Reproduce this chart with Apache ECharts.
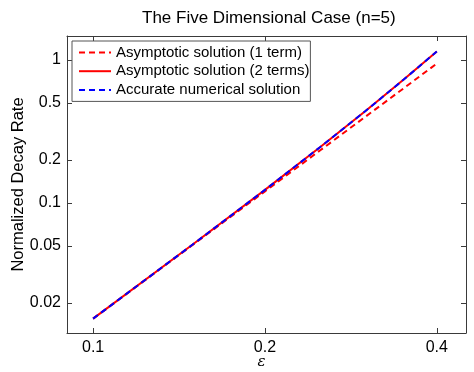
<!DOCTYPE html>
<html>
<head>
<meta charset="utf-8">
<script src="https://cdn.jsdelivr.net/npm/echarts@6/dist/echarts.min.js"></script>
<style>
html,body{margin:0;padding:0;background:#fff;}
#chart{width:474px;height:372px;}
</style>
</head>
<body>
<div id="chart"></div>
<script>
// ---- data ----
const epsilon = [0.1, 0.15, 0.2, 0.25, 0.3, 0.35, 0.4];
const asymptotic1 = [0.0155, 0.0514, 0.1203, 0.233, 0.400, 0.632, 0.941];
const asymptotic2 = [0.0155, 0.0517, 0.1232, 0.2456, 0.438, 0.727, 1.144];
const numerical   = [0.0155, 0.0517, 0.1232, 0.2456, 0.438, 0.727, 1.144];
const xTickLabels = [0.1, 0.2, 0.4];
const yTickLabels = [0.02, 0.05, 0.1, 0.2, 0.5, 1];
const seriesNames = ['Asymptotic solution (1 term)', 'Asymptotic solution (2 terms)', 'Accurate numerical solution'];

const xMin = 0.09, xMax = 0.45;
const yMin = 0.0123, yMax = 1.466;

const FONT = 'Liberation Sans';
const axisColor = '#3a3a3a';

function pairs(xs, ys) { return xs.map((x, i) => [x, ys[i]]); }
function fmt(v) { return String(Number(Math.pow(10, v).toPrecision(3))); }

const chart = echarts.init(document.getElementById('chart'));
const tickCommon = { show: true, inside: true, length: 5, lineStyle: { color: axisColor, width: 1 } };
const lineCommon = { show: true, onZero: false, lineStyle: { color: axisColor, width: 1 } };

chart.setOption({
  animation: false,
  backgroundColor: '#fff',
  title: {
    text: 'The Five Dimensional Case (n=5)',
    left: 137, top: 5,
    textStyle: { fontFamily: FONT, fontSize: 17, fontWeight: 'normal', color: '#000' }
  },
  grid: { left: 67, right: 8, top: 36, bottom: 39, containLabel: false, outerBoundsMode: 'none' },
  legend: {
    orient: 'vertical', left: 72, top: 41,
    itemWidth: 32, itemHeight: 14, itemGap: 3.7,
    padding: [4, 1, 4, 6],
    borderColor: '#555', borderWidth: 1, backgroundColor: '#fff',
    itemStyle: { opacity: 0 },
    textStyle: { fontFamily: FONT, fontSize: 15, color: '#000' },
    data: seriesNames
  },
  xAxis: [
    { type: 'log', logBase: 10, min: xMin, max: xMax, position: 'bottom', show: false },
    { type: 'value', min: Math.log10(xMin), max: Math.log10(xMax), position: 'bottom',
      axisLine: lineCommon, splitLine: { show: false },
      axisTick: Object.assign({ customValues: xTickLabels.map(Math.log10) }, tickCommon),
      axisLabel: { customValues: xTickLabels.map(Math.log10), formatter: fmt, margin: 7,
                   fontFamily: FONT, fontSize: 16, color: '#000' },
      name: 'ε', nameLocation: 'middle', nameGap: 22, nameMoveOverlap: false,
      nameTextStyle: { fontFamily: 'DejaVu Serif', fontStyle: 'italic', fontSize: 15, color: '#000', padding: [0, 10, 0, 0] } },
    { type: 'value', min: Math.log10(xMin), max: Math.log10(xMax), position: 'top',
      axisLine: lineCommon, splitLine: { show: false },
      axisTick: Object.assign({ customValues: xTickLabels.map(Math.log10) }, tickCommon),
      axisLabel: { show: false } }
  ],
  yAxis: [
    { type: 'log', logBase: 10, min: yMin, max: yMax, position: 'left', show: false },
    { type: 'value', min: Math.log10(yMin), max: Math.log10(yMax), position: 'left',
      axisLine: lineCommon, splitLine: { show: false },
      axisTick: Object.assign({ customValues: yTickLabels.map(Math.log10) }, tickCommon),
      axisLabel: { customValues: yTickLabels.map(Math.log10), formatter: fmt, margin: 6,
                   fontFamily: FONT, fontSize: 16, color: '#000' },
      name: 'Normalized Decay Rate', nameLocation: 'middle', nameGap: 40, nameMoveOverlap: false,
      nameTextStyle: { fontFamily: FONT, fontSize: 16.5, color: '#000' } },
    { type: 'value', min: Math.log10(yMin), max: Math.log10(yMax), position: 'right',
      axisLine: lineCommon, splitLine: { show: false },
      axisTick: Object.assign({ customValues: yTickLabels.map(Math.log10) }, tickCommon),
      axisLabel: { show: false } }
  ],
  series: [
    { name: seriesNames[0], type: 'line', xAxisIndex: 0, yAxisIndex: 0, symbol: 'none',
      data: pairs(epsilon, asymptotic1), color: '#ff0000',
      lineStyle: { color: '#ff0000', width: 2, type: [6, 4] }, z: 2 },
    { name: seriesNames[1], type: 'line', xAxisIndex: 0, yAxisIndex: 0, symbol: 'none',
      data: pairs(epsilon, asymptotic2), color: '#ff0000',
      lineStyle: { color: '#ff0000', width: 2, type: 'solid' }, z: 3 },
    { name: seriesNames[2], type: 'line', xAxisIndex: 0, yAxisIndex: 0, symbol: 'none',
      data: pairs(epsilon, numerical), color: '#0000ff',
      lineStyle: { color: '#0000ff', width: 2, type: [6, 4] }, z: 4 }
  ]
});
</script>
</body>
</html>
